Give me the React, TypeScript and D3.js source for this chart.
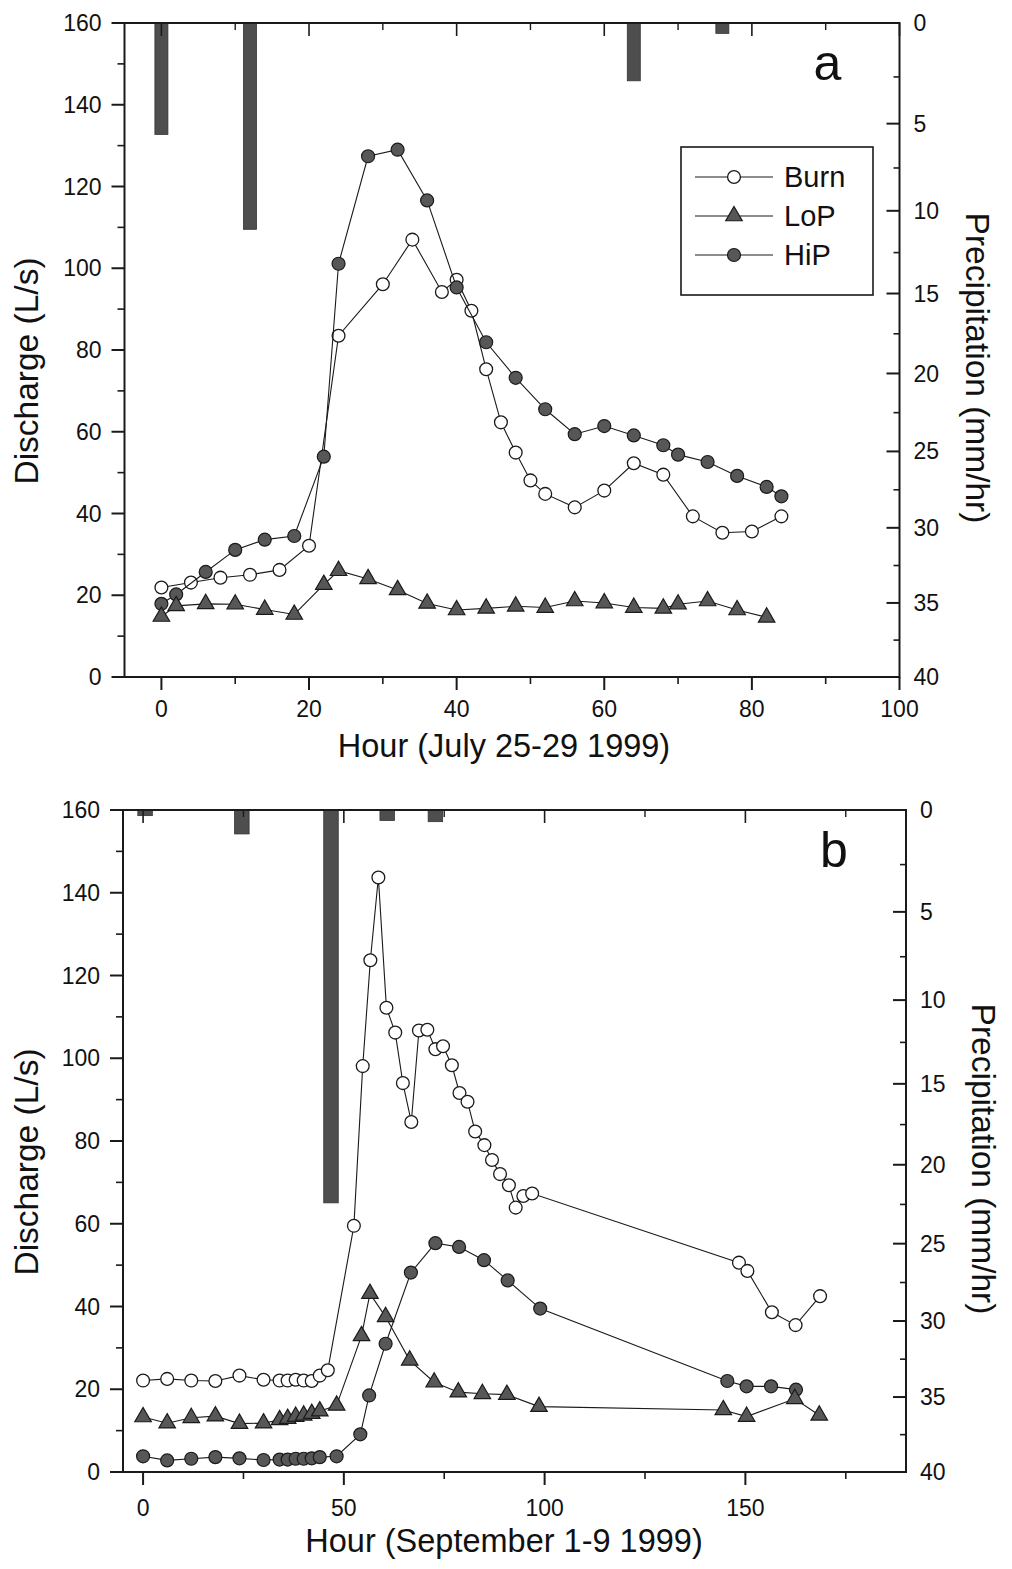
import React from "react";
import * as d3 from "d3";

// ---------- DATA ----------
// Panel a (July 25-29 1999)
const aBurnHours = [0, 4, 8, 12, 16, 20, 24, 30, 34, 38, 40, 42, 44, 46, 48, 50, 52, 56, 60, 64, 68, 72, 76, 80, 84];
const aBurnQ = [21.9, 23.1, 24.3, 25.0, 26.2, 32.1, 83.5, 96.1, 107, 94.2, 97.2, 89.6, 75.3, 62.3, 54.9, 48.1, 44.8, 41.5, 45.6, 52.3, 49.5, 39.3, 35.3, 35.6, 39.3];
const aHiPHours = [0, 2, 6, 10, 14, 18, 22, 24, 28, 32, 36, 40, 44, 48, 52, 56, 60, 64, 68, 70, 74, 78, 82, 84];
const aHiPQ = [17.9, 20.2, 25.7, 31.1, 33.6, 34.5, 53.9, 101.1, 127.4, 129, 116.6, 95.3, 81.9, 73.2, 65.5, 59.4, 61.4, 59.1, 56.7, 54.4, 52.6, 49.2, 46.5, 44.2];
const aLoPHours = [0, 2, 6, 10, 14, 18, 22, 24, 28, 32, 36, 40, 44, 48, 52, 56, 60, 64, 68, 70, 74, 78, 82];
const aLoPQ = [14.8, 17.4, 17.9, 17.8, 16.5, 15.3, 22.6, 26.0, 24.0, 21.3, 18.0, 16.4, 16.8, 17.3, 17.0, 18.6, 18.1, 17.0, 16.8, 17.8, 18.6, 16.4, 14.6];
const aRainHours = [0, 12, 64, 76];
const aRainMm = [5.6, 11.1, 2.7, 0.4];

// Panel b (September 1-9 1999)
const bBurnHours = [0, 6, 12, 18, 24, 30, 34, 36, 38, 40, 42, 44, 46, 52.5, 54.7, 56.6, 58.6, 60.6, 62.8, 64.7, 66.8, 68.7, 70.8, 72.8, 74.7, 76.9, 78.8, 80.8, 82.7, 85, 86.9, 88.9, 91.1, 92.8, 94.7, 96.9, 148.4, 150.5, 156.6, 162.5, 168.6];
const bBurnQ = [22.1, 22.5, 22.1, 22.0, 23.3, 22.3, 22.1, 22.1, 22.3, 22.1, 22.0, 23.3, 24.6, 59.5, 98.1, 123.7, 143.7, 112.2, 106.2, 94.0, 84.6, 106.7, 106.9, 102.2, 102.9, 98.3, 91.6, 89.5, 82.3, 79.0, 75.4, 72.0, 69.3, 63.9, 66.7, 67.3, 50.6, 48.6, 38.6, 35.5, 42.5];
const bHiPHours = [0, 6, 12, 18, 24, 30, 34, 36, 38, 40, 42, 44, 48.2, 54.1, 56.3, 60.4, 66.7, 72.8, 78.7, 84.9, 90.8, 98.9, 145.5, 150.3, 156.4, 162.6];
const bHiPQ = [3.8, 2.8, 3.2, 3.6, 3.3, 2.9, 3.0, 3.0, 3.2, 3.2, 3.3, 3.6, 3.8, 9.1, 18.5, 31.0, 48.2, 55.3, 54.4, 51.2, 46.3, 39.5, 22.0, 20.7, 20.7, 19.9];
const bLoPHours = [0, 6, 12, 18, 24, 30, 34, 36, 38, 40, 42, 44, 48.2, 54.4, 56.5, 60.4, 66.4, 72.5, 78.5, 84.5, 90.6, 98.6, 144.5, 150.3, 162.3, 168.4];
const bLoPQ = [13.3, 11.8, 13.1, 13.5, 11.7, 11.8, 12.6, 12.9, 13.4, 13.7, 14.1, 14.7, 16.1, 32.9, 43.1, 37.5, 27.0, 21.7, 19.3, 18.9, 18.7, 15.8, 15.0, 13.4, 17.7, 13.7];
const bRainHours = [0.5, 24.6, 46.8, 60.8, 72.8];
const bRainMm = [0.2, 1.0, 22.4, 0.4, 0.45];

// Tick labels
const aHourTicks = [0, 20, 40, 60, 80, 100];
const aHourMinor = [-10, 10, 30, 50, 70, 90];
const bHourTicks = [0, 50, 100, 150];
const bHourMinor = [25, 75, 125, 175];
const dischargeTicks = [0, 20, 40, 60, 80, 100, 120, 140, 160];
const dischargeMinor = [10, 30, 50, 70, 90, 110, 130, 150];
const precipTicks = [0, 5, 10, 15, 20, 25, 30, 35, 40];
const precipMinor = [2.5, 7.5, 12.5, 17.5, 22.5, 27.5, 32.5, 37.5];
const seriesNames = ["Burn", "LoP", "HiP"];

const FONT = "'Liberation Sans', Arial, Helvetica, sans-serif";
const GRAY = "#575757";
const DARK = "#1a1a1a";

type Series = { name: string; hours: number[]; q: number[] };

function zip(h: number[], v: number[]): [number, number][] {
  return h.map((d, i) => [d, v[i]]);
}

function Marker({ kind, cx, cy }: { kind: string; cx: number; cy: number }) {
  if (kind === "Burn") {
    return <circle cx={cx} cy={cy} r={6.4} fill="#fff" stroke={DARK} strokeWidth={1.3} />;
  }
  if (kind === "HiP") {
    return <circle cx={cx} cy={cy} r={6.5} fill={GRAY} stroke={DARK} strokeWidth={1.2} />;
  }
  const tri = d3.symbol().type(d3.symbolTriangle).size(118)();
  return <path d={tri || ""} transform={`translate(${cx},${cy})`} fill={GRAY} stroke={DARK} strokeWidth={1.2} />;
}

type PanelProps = {
  left: number; right: number; top: number; bottom: number;
  xDomain: [number, number];
  xTicks: number[]; xMinor: number[];
  series: Series[];
  rainHours: number[]; rainMm: number[]; barW: number;
  xTitle: string; letter: string; legend: boolean;
  xLabelDy: number; rightTitleX: number;
};

function Panel(p: PanelProps) {
  const x = d3.scaleLinear().domain(p.xDomain).range([p.left, p.right]);
  const y = d3.scaleLinear().domain([0, 160]).range([p.bottom, p.top]);
  const yr = d3.scalePow().exponent(0.9).domain([0, 40]).range([p.top, p.bottom]);
  const line = d3.line<[number, number]>().x((d) => x(d[0])).y((d) => y(d[1]));
  const midY = (p.top + p.bottom) / 2;
  const order = ["Burn", "HiP", "LoP"];
  const ordered = order.map((n) => p.series.find((s) => s.name === n)!).filter(Boolean);

  return (
    <g>
      {/* precipitation bars */}
      {p.rainHours.map((h, i) => (
        <rect key={"r" + i} x={x(h) - p.barW / 2} y={yr(0)} width={p.barW} height={yr(p.rainMm[i]) - yr(0)}
          fill="#4e4e4e" stroke="#333" strokeWidth={0.8} />
      ))}

      {/* series */}
      {ordered.map((s) => {
        const pts = zip(s.hours, s.q);
        return (
          <g key={s.name}>
            <path d={line(pts) || ""} fill="none" stroke={DARK} strokeWidth={1.1} />
            {pts.map((d, i) => (
              <Marker key={i} kind={s.name} cx={x(d[0])} cy={y(d[1])} />
            ))}
          </g>
        );
      })}

      {/* frame */}
      <rect x={p.left} y={p.top} width={p.right - p.left} height={p.bottom - p.top} fill="none" stroke={DARK} strokeWidth={2} />

      {/* bottom axis ticks (outward) and top (inward) */}
      {p.xTicks.map((t) => (
        <g key={"xt" + t}>
          <line x1={x(t)} x2={x(t)} y1={p.bottom} y2={p.bottom + 13} stroke={DARK} strokeWidth={2} />
          <line x1={x(t)} x2={x(t)} y1={p.top} y2={p.top + 13} stroke={DARK} strokeWidth={1.6} />
          <text x={x(t)} y={p.bottom + p.xLabelDy} textAnchor="middle" fontSize={23} fontFamily={FONT} fill="#111">{t}</text>
        </g>
      ))}
      {p.xMinor.filter((t) => x(t) > p.left && x(t) < p.right).map((t) => (
        <g key={"xm" + t}>
          <line x1={x(t)} x2={x(t)} y1={p.bottom} y2={p.bottom + 7} stroke={DARK} strokeWidth={1.6} />
          <line x1={x(t)} x2={x(t)} y1={p.top} y2={p.top + 7} stroke={DARK} strokeWidth={1.4} />
        </g>
      ))}

      {/* left axis */}
      {dischargeTicks.map((t) => (
        <g key={"yt" + t}>
          <line x1={p.left - 13} x2={p.left} y1={y(t)} y2={y(t)} stroke={DARK} strokeWidth={2} />
          <text x={p.left - 23} y={y(t)} dy="0.35em" textAnchor="end" fontSize={23} fontFamily={FONT} fill="#111">{t}</text>
        </g>
      ))}
      {dischargeMinor.map((t) => (
        <line key={"ym" + t} x1={p.left - 7} x2={p.left} y1={y(t)} y2={y(t)} stroke={DARK} strokeWidth={1.6} />
      ))}

      {/* right axis (precipitation, inverted) */}
      {precipTicks.map((t) => (
        <g key={"pt" + t}>
          <line x1={p.right - 13} x2={p.right} y1={yr(t)} y2={yr(t)} stroke={DARK} strokeWidth={2} />
          <text x={p.right + 14} y={yr(t)} dy="0.35em" textAnchor="start" fontSize={23} fontFamily={FONT} fill="#111">{t}</text>
        </g>
      ))}
      {precipMinor.map((t) => (
        <line key={"pm" + t} x1={p.right - 6} x2={p.right} y1={yr(t)} y2={yr(t)} stroke={DARK} strokeWidth={1.6} />
      ))}

      {/* titles */}
      <text transform={`translate(38,${midY + 21}) rotate(-90)`} textAnchor="middle" fontSize={33.5} fontFamily={FONT} fill="#111">Discharge (L/s)</text>
      <text transform={`translate(${p.rightTitleX},${midY + 18}) rotate(90)`} textAnchor="middle" fontSize={33.5} fontFamily={FONT} fill="#111">Precipitation (mm/hr)</text>
      <text x={504} y={p.bottom + 80} textAnchor="middle" fontSize={32.5} fontFamily={FONT} fill="#111">{p.xTitle}</text>
      <text x={p.right - 72} y={p.top + 57} textAnchor="middle" fontSize={50} fontFamily={FONT} fill="#111">{p.letter}</text>

      {p.legend && (
        <g>
          <rect x={681} y={147} width={192} height={148} fill="#fff" stroke={DARK} strokeWidth={1.6} />
          {seriesNames.map((n, i) => {
            const ly = 177 + i * 39;
            return (
              <g key={"lg" + n}>
                <line x1={695} x2={773} y1={ly} y2={ly} stroke={DARK} strokeWidth={1.1} />
                <Marker kind={n} cx={734} cy={ly} />
                <text x={784} y={ly} dy="0.36em" fontSize={29} fontFamily={FONT} fill="#111">{n}</text>
              </g>
            );
          })}
        </g>
      )}
    </g>
  );
}

export default function App() {
  const aSeries: Series[] = [
    { name: "Burn", hours: aBurnHours, q: aBurnQ },
    { name: "LoP", hours: aLoPHours, q: aLoPQ },
    { name: "HiP", hours: aHiPHours, q: aHiPQ },
  ];
  const bSeries: Series[] = [
    { name: "Burn", hours: bBurnHours, q: bBurnQ },
    { name: "LoP", hours: bLoPHours, q: bLoPQ },
    { name: "HiP", hours: bHiPHours, q: bHiPQ },
  ];
  return (
    <svg width={1012} height={1569} viewBox="0 0 1012 1569"
      style={{ position: "absolute", left: 0, top: 0, background: "#fff" }}>
      <rect x={0} y={0} width={1012} height={1569} fill="#fff" />
      <Panel left={124.5} right={899.5} top={23} bottom={677} xDomain={[-5, 100]}
        xTicks={aHourTicks} xMinor={aHourMinor} series={aSeries}
        rainHours={aRainHours} rainMm={aRainMm} barW={13}
        xTitle="Hour (July 25-29 1999)" letter="a" legend={true} xLabelDy={40} rightTitleX={966} />
      <Panel left={123} right={906} top={810} bottom={1472} xDomain={[-5, 190]}
        xTicks={bHourTicks} xMinor={bHourMinor} series={bSeries}
        rainHours={bRainHours} rainMm={bRainMm} barW={14.5}
        xTitle="Hour (September 1-9 1999)" letter="b" legend={false} xLabelDy={44} rightTitleX={972} />
    </svg>
  );
}
